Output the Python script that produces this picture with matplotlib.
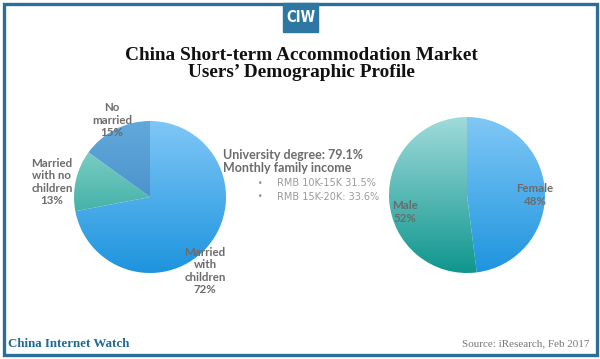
import numpy as np
import matplotlib.pyplot as plt
from matplotlib.colors import LinearSegmentedColormap

# data
marital_labels = ["Married\nwith\nchildren", "Married\nwith no\nchildren", "No\nmarried"]
marital_values = [72, 13, 15]
gender_labels = ["Female", "Male"]
gender_values = [48, 52]
title = "China Short-term Accommodation Market\nUsers\u2019 Demographic Profile"
info_main = ["University degree: 79.1%", "Monthly family income"]
info_income = ["RMB 10K-15K 31.5%", "RMB 15K-20K: 33.6%"]

W, H = 600, 359
fig = plt.figure(figsize=(W / 100, H / 100), dpi=100)


def px_axes(z):
    a = fig.add_axes([0, 0, 1, 1], zorder=z)
    a.set_xlim(0, W)
    a.set_ylim(H, 0)
    a.axis("off")
    a.patch.set_alpha(0)
    return a


bg = px_axes(0)

blue = "#2a6f98"
bg.add_patch(plt.Rectangle((3.5, 3.5), W - 7, H - 8, fill=False, ec=blue, lw=2.4))
bg.add_patch(plt.Rectangle((283, 3), 35, 29, color="#2c78a3"))
bg.text(300.5, 18, "CIW", color="white", fontsize=10.5, fontweight="bold",
        ha="center", va="center", family="DejaVu Sans", fontstretch="condensed")
bg.text(301, 64, title, ha="center", va="center", fontsize=13.9, fontweight="bold",
        family="Liberation Serif", color="#111111", linespacing=1.05)

bg.text(8, 344, "China Internet Watch", fontsize=9.4, fontweight="bold", family="Liberation Serif",
        color="#1f6a96", va="center")
bg.text(589, 344, "Source: iResearch, Feb 2017", fontsize=8, family="Liberation Serif",
        color="#777777", va="center", ha="right")

txt_grey = "#6b6b6b"
bg.text(223, 155, info_main[0], fontsize=9, fontweight="bold", color=txt_grey, va="center",
        family="Lato")
bg.text(223, 168, info_main[1], fontsize=9, fontweight="bold", color=txt_grey, va="center",
        family="Lato")
for i, s in enumerate(info_income):
    y = 183 + i * 13.5
    bg.text(258, y, "\u2022", fontsize=5.5, color="#888888", va="center")
    bg.text(277, y, s, fontsize=7, color="#9a9a9a", va="center")


def gradient_pie(cx, cy, r, values, grads):
    ax = fig.add_axes([(cx - r) / W, (H - cy - r) / H, 2 * r / W, 2 * r / H], zorder=1)
    wedges, _ = ax.pie(values, startangle=90, counterclock=False, radius=1,
                       wedgeprops=dict(linewidth=0))
    ax.set_xlim(-1, 1)
    ax.set_ylim(-1, 1)
    grad = np.linspace(0, 1, 256).reshape(-1, 1)
    for w, (c1, c2) in zip(wedges, grads):
        w.set_facecolor("none")
        cmap = LinearSegmentedColormap.from_list("g", [c1, c2])
        im = ax.imshow(grad, cmap=cmap, extent=[-1, 1, -1, 1], origin="upper",
                       aspect="auto", zorder=0)
        im.set_clip_path(w)
    ax.axis("off")
    return ax


ax1 = gradient_pie(150, 197, 76, marital_values,
                   [("#7fc7f6", "#1d94de"), ("#94dad2", "#10978c"), ("#62a9db", "#347fbd")])
ax2 = gradient_pie(467, 195, 78, gender_values,
                   [("#80c8f6", "#1e94de"), ("#a0dbdb", "#0f968d")])

top = px_axes(2)
lab = dict(fontsize=8.3, fontweight="bold", color=txt_grey, ha="center", va="center",
           linespacing=1.15, family="Lato")
top.text(205, 271, marital_labels[0] + "\n%d%%" % marital_values[0], **lab)
top.text(52, 182, marital_labels[1] + "\n%d%%" % marital_values[1], **lab)
top.text(112, 120, marital_labels[2] + "\n%d%%" % marital_values[2], **lab)
top.text(535, 195, gender_labels[0] + "\n%d%%" % gender_values[0], **lab)
top.text(405, 212, gender_labels[1] + "\n%d%%" % gender_values[1], **lab)

fig.savefig("out.png", dpi=100)
